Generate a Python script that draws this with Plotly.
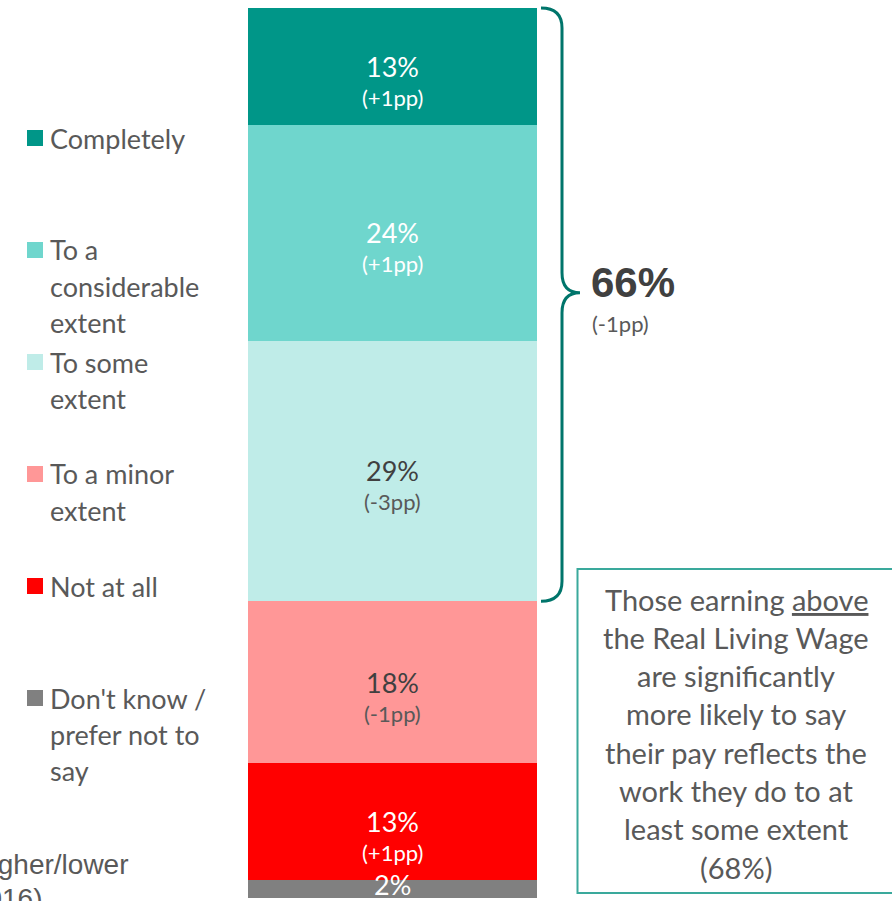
import plotly.graph_objects as go

# ---- data -------------------------------------------------------------
categories = ["Completely", "To a considerable extent", "To some extent",
              "To a minor extent", "Not at all", "Don't know / prefer not to say"]
legend_labels = ["Completely", "To a<br>considerable<br>extent", "To some<br>extent",
                 "To a minor<br>extent", "Not at all", "Don't know /<br>prefer not to<br>say"]
values = [13, 24, 29, 18, 13, 2]
changes = ["(+1pp)", "(+1pp)", "(-3pp)", "(-1pp)", "(+1pp)", ""]
net_value = 66
net_change = "(-1pp)"
net_count = 3  # top three categories make up the net figure
note_lines = ["Those earning <u>above</u>", "the Real Living Wage", "are significantly",
              "more likely to say", "their pay reflects the", "work they do to at",
              "least some extent", "(68%)"]
footnote_lines = ["(Figures in brackets: change vs. 2016; significantly higher/lower",
                  "than in 2016)"]

# ---- styles -----------------------------------------------------------
colors = ["#009688", "#6fd6cd", "#bfece8", "#ff9797", "#ff0000", "#808080"]
label_colors = ["#ffffff", "#ffffff", "#404040", "#404040", "#ffffff", "#ffffff"]
change_colors = ["#ffffff", "#ffffff", "#595959", "#595959", "#ffffff", "#ffffff"]
TEXT = "#595959"
BODY_FONT = "Lato"

W, H = 892, 901
BAR_X, BAR_W = 392.5, 289
BAR_TOP_PX, BAR_BOTTOM_PX = 8, 898

total = sum(values)
px_per_unit = (BAR_BOTTOM_PX - BAR_TOP_PX) / total
y_lo = -(H - BAR_BOTTOM_PX) / px_per_unit
y_hi = total + BAR_TOP_PX / px_per_unit


def px_to_paper(py):
    return 1 - py / H


fig = go.Figure()

# stacked bar, drawn bottom-up
bottoms = {}
running = 0
for i in reversed(range(len(values))):
    bottoms[i] = running
    fig.add_trace(go.Bar(
        x=[BAR_X], y=[values[i]], width=[BAR_W], name=categories[i],
        marker=dict(color=colors[i], line=dict(width=0)),
        hoverinfo="skip", showlegend=False,
    ))
    running += values[i]

annotations = []
shapes = []

# value labels inside the segments
for i, v in enumerate(values):
    mid = bottoms[i] + v / 2
    main_shift = 0 if changes[i] else 5
    annotations.append(dict(
        x=BAR_X, y=mid, xref="x", yref="y", text=f"{v}%", showarrow=False,
        font=dict(family=BODY_FONT, size=27, color=label_colors[i]),
        yshift=main_shift, xanchor="center", yanchor="middle"))
    if changes[i]:
        annotations.append(dict(
            x=BAR_X, y=mid, xref="x", yref="y", text=changes[i], showarrow=False,
            font=dict(family=BODY_FONT, size=22, color=change_colors[i]),
            yshift=-31, xanchor="center", yanchor="middle"))

# custom legend on the left
LEG_FIRST_PX, LEG_STEP_PX, LEG_LINE_PX = 138, 112, 36
for i, lab in enumerate(legend_labels):
    cy = LEG_FIRST_PX + i * LEG_STEP_PX
    shapes.append(dict(type="rect", xref="x", yref="paper",
                       x0=27, x1=43, y0=px_to_paper(cy + 8), y1=px_to_paper(cy - 8),
                       fillcolor=colors[i], line=dict(width=0)))
    for j, line in enumerate(lab.split("<br>")):
        annotations.append(dict(
            x=48, y=px_to_paper(cy + j * LEG_LINE_PX), xref="x", yref="paper",
            text=line, showarrow=False, xanchor="left", yanchor="middle",
            font=dict(family=BODY_FONT, size=27, color=TEXT)))

# curly brace spanning the net categories
net_top = total
net_bottom = total - sum(values[:net_count])
r = 20 / px_per_unit
tip_y = net_bottom + 0.52 * (net_top - net_bottom)
bx0, bx1, bx2 = 541, 562, 580
brace = (f"M {bx0},{net_top} Q {bx1},{net_top} {bx1},{net_top - r} "
         f"L {bx1},{tip_y + r} Q {bx1},{tip_y} {bx2},{tip_y} "
         f"Q {bx1},{tip_y} {bx1},{tip_y - r} "
         f"L {bx1},{net_bottom + r} Q {bx1},{net_bottom} {bx0},{net_bottom}")
shapes.append(dict(type="path", xref="x", yref="y", path=brace,
                   line=dict(color="#00756b", width=3)))

annotations.append(dict(
    x=589, y=tip_y, xref="x", yref="y", text=f"<b>{net_value}%</b>", showarrow=False,
    xanchor="left", yanchor="middle", yshift=10,
    font=dict(family="Liberation Sans", size=42, color="#404040")))
annotations.append(dict(
    x=590, y=tip_y, xref="x", yref="y", text=net_change, showarrow=False,
    xanchor="left", yanchor="middle", yshift=-31,
    font=dict(family=BODY_FONT, size=22, color=TEXT)))

# call-out box
shapes.append(dict(type="rect", xref="x", yref="paper",
                   x0=577.5, x1=900, y0=px_to_paper(893), y1=px_to_paper(569),
                   fillcolor="rgba(0,0,0,0)", line=dict(color="#3aa99c", width=2)))
NOTE_FIRST_PX, NOTE_STEP_PX = 599, 38.3
for j, line in enumerate(note_lines):
    annotations.append(dict(
        x=736, y=px_to_paper(NOTE_FIRST_PX + j * NOTE_STEP_PX), xref="x", yref="paper",
        text=line, showarrow=False, xanchor="center", yanchor="middle",
        font=dict(family=BODY_FONT, size=29, color=TEXT)))

# footnote running off the left edge
for j, (line, xr) in enumerate(zip(footnote_lines, [131, 44])):
    annotations.append(dict(
        x=xr, y=px_to_paper(864 + j * 34), xref="x", yref="paper",
        text=line, showarrow=False, xanchor="right", yanchor="middle",
        font=dict(family="Liberation Sans", size=28, color=TEXT)))

fig.update_layout(
    width=W, height=H, barmode="stack",
    margin=dict(l=0, r=0, t=0, b=0),
    paper_bgcolor="white", plot_bgcolor="white",
    xaxis=dict(range=[0, W], visible=False, fixedrange=True),
    yaxis=dict(range=[y_lo, y_hi], visible=False, fixedrange=True),
    shapes=shapes, annotations=annotations,
    bargap=0,
)

fig.write_html("out.html", config={"displayModeBar": False})
